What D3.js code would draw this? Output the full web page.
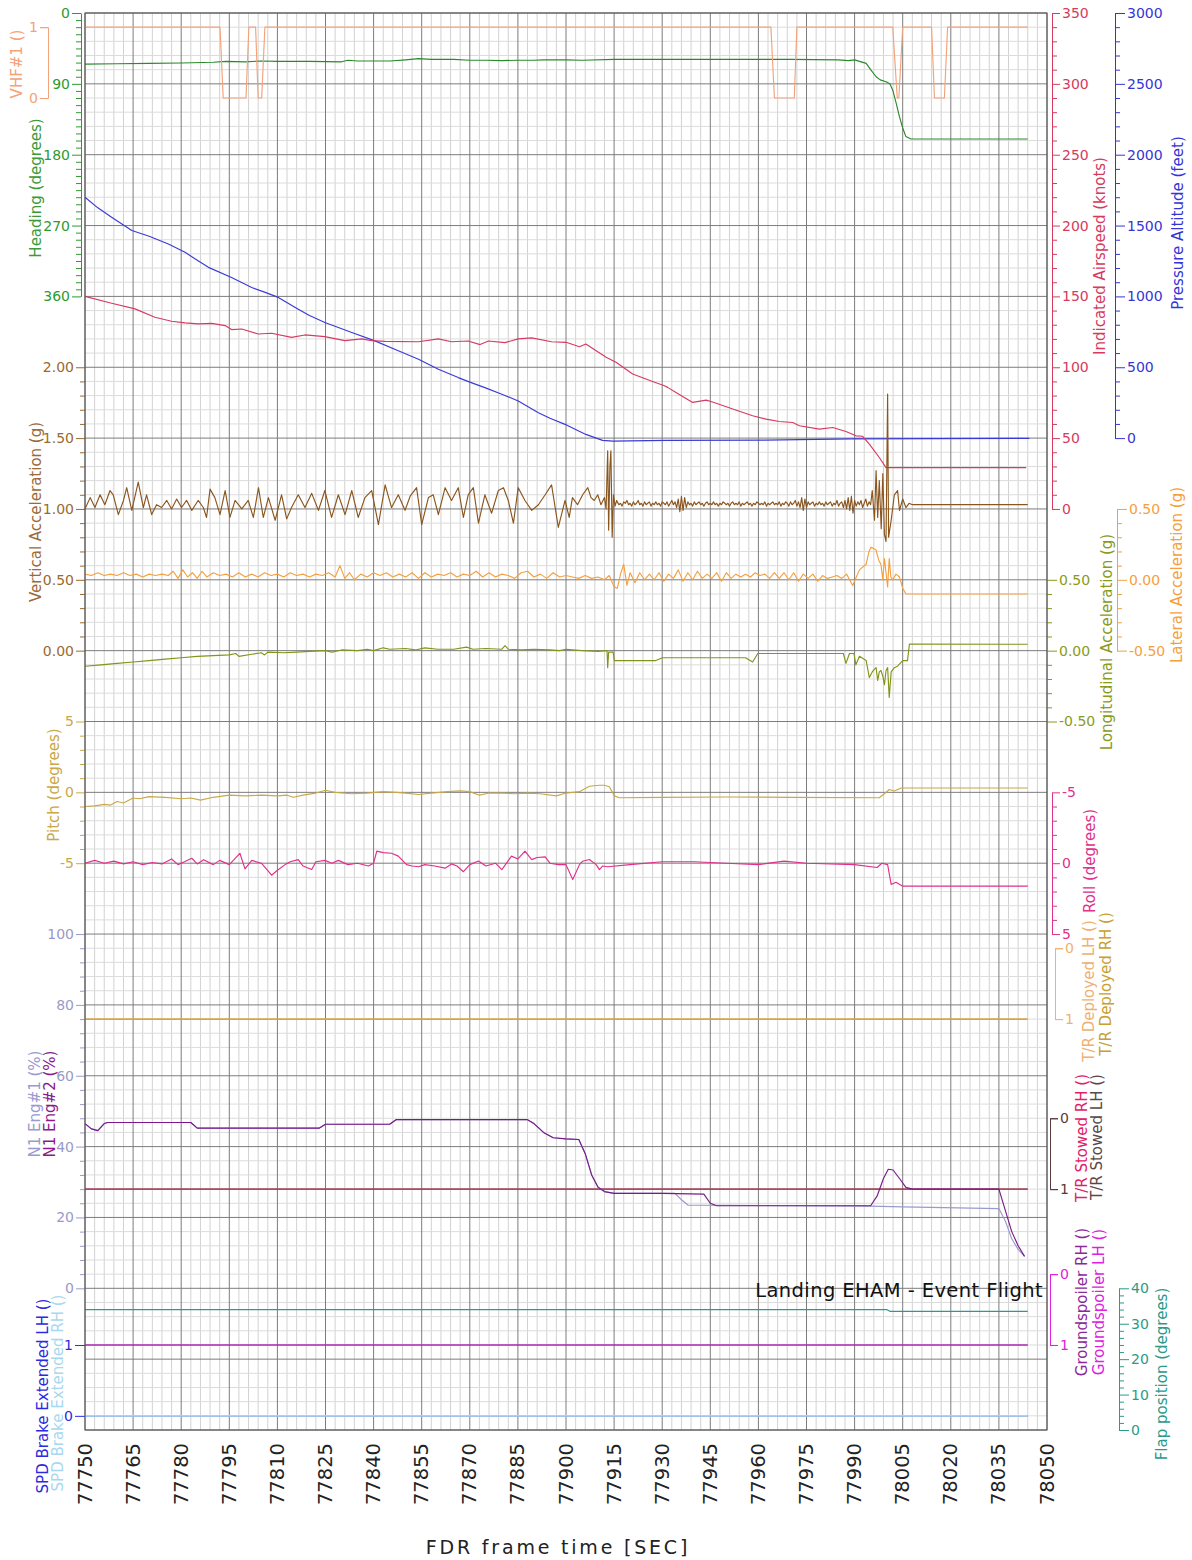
<!DOCTYPE html>
<html>
<head>
<meta charset="utf-8">
<script src="https://cdn.jsdelivr.net/npm/d3@7"></script>
<style>
  body { margin: 0; background: #fff; }
  svg text { font-family: "DejaVu Sans", Verdana, sans-serif; }
</style>
</head>
<body>
<div id="chart"></div>
<script>
// all series: [seconds after T0, value]
const T0 = 77750;
const timeTicks = d3.range(77750, 78051, 15);

const heading = [[0,65],[10,64.5],[20,64],[30,63.5],[40,62.5],[44,61.5],[50,62],[55,61],[60,61.5],[70,61.5],[80,62],[81,61],[82,60],[85,61],[95,61],[100,59.5],[104,58],[108,59],[115,59],[120,60],[125,60],[130,60.5],[135,60],[140,60],[143,59.5],[150,59.5],[155,60],[165,59],[180,59],[200,59],[220,59],[235,59.5],[238,60.5],[240,59.5],[243.6,64],[245,72],[246.7,81],[248,85],[249.8,87.4],[251,90],[251.9,98],[253,115],[254,132],[255,146],[256,157],[257.6,160],[294,160]];

const vhf1 = [[0,1],[42.1,1],[43.1,0],[50.2,0],[51.1,1],[53.2,1],[54,0],[55.1,0],[56.1,1],[213.9,1],[215,0],[221.2,0],[222,1],[251.9,1],[253.3,0],[253.8,0],[255,1],[264,1],[264.9,0],[268,0],[269,1],[294,1]];

const airspeed = [[0,150],[8.3,145.2],[15.6,141.2],[21.8,135.3],[27,132.5],[31.2,131.3],[35.3,130.6],[39.5,131],[43.7,129.4],[45.7,126.6],[48.9,127],[54,123.5],[58.2,124],[64.4,121.1],[68.6,122.8],[74.8,121.6],[81,118.8],[86.3,120],[89.4,118.8],[93.6,118.3],[104,118],[110.2,120],[114.3,118],[119.5,118.5],[123.2,116],[125.8,118.5],[131,117.4],[135.1,120],[139.3,120.7],[145.5,118],[150,117.6],[154.2,114.5],[156.2,116.4],[162.5,107],[165.6,103.5],[170.8,95.2],[177,90],[180.7,87],[181.7,85.8],[184.3,82.2],[189.5,75.2],[193.7,76.8],[195.7,75.5],[202,70.5],[208.2,65.8],[212.4,63.4],[216.5,61.7],[220.7,61],[222.8,58.7],[229,56.3],[233.2,57.5],[237.3,54.7],[240.4,51.6],[242.5,51.3],[244.6,45.7],[247.7,36.3],[249.8,29.2],[293.5,29.2]];

const altitude = [[0,1700],[4,1625],[8.3,1559],[14.6,1465],[20,1425],[26,1370],[31.2,1311],[35,1255],[38.5,1205],[45.7,1134],[52,1063],[56,1030],[60.3,993],[66.5,910],[70,865],[74.8,816],[83.2,745],[90.4,686],[97.7,616],[104,557],[110.2,486],[116.4,427],[120,395],[124.7,356],[130,310],[135.1,262],[141.4,179],[145,140],[149.7,97],[153,60],[156.2,26],[161.4,-16],[164.6,-21],[181,-16],[212,-14],[239,-5],[294.5,-2]];

// vertical acceleration, approach part
const vertAccelApproach = [[0,1.00],[1.6,1.08],[3.1,1.01],[4.7,1.10],[6.2,1.03],[7.8,1.13],[8.8,1.10],[10.4,0.96],[12,1.06],[13,1.15],[14.6,0.99],[16.6,1.19],[18.2,1.01],[19.2,1.10],[20.8,0.96],[22.3,1.03],[23.9,1.01],[25.5,1.06],[27,1.00],[28.6,1.07],[30.1,1.01],[31.7,1.06],[33.3,0.99],[35.3,1.06],[36.9,1.01],[37.9,0.94],[39,1.14],[40.5,1.08],[42.1,0.96],[43.7,1.13],[45.2,0.94],[46.8,1.06],[48.9,1.00],[50.9,1.06],[52.5,0.94],[54.1,1.15],[55.6,0.94],[57.2,1.08],[59.3,0.92],[61.3,1.10],[62.9,0.93],[64.4,1.01],[66.5,1.10],[68.6,1.01],[70.7,1.11],[72.8,0.99],[74.8,1.13],[76.9,0.94],[79,1.10],[81.1,0.96],[83.2,1.13],[85.2,0.94],[87.3,1.08],[89.4,1.13],[91.5,0.89],[93.6,1.17],[95.6,1.01],[97.7,1.10],[99.8,0.99],[101.4,1.09],[103.4,1.15],[105,0.89],[107.1,1.08],[108.6,1.10],[110.2,0.96],[112.3,1.15],[114.3,1.06],[116.4,1.15],[118,0.94],[119.5,1.10],[121.1,1.15],[122.7,0.90],[124.7,1.10],[126.8,0.97],[128.9,1.13],[130.5,1.15],[132,1.06],[133.6,0.90],[135.1,1.15],[137.2,1.06],[139.3,0.99],[141.4,1.03],[143.5,1.10],[145.5,1.17],[147.6,0.87],[149.7,1.06],
  [151,0.94],[152,1.08],[153.6,1.03],[155.2,1.10],[156.8,1.15],[157.8,1.08],[158.8,1.06],[159.9,1.10],[160.9,1.03],[162,1.08],[162.5,1.00],[163,1.41],[163.3,0.85],[163.7,1.30],[164,1.41],[164.4,0.80],[164.8,1.10],[165.3,1.02],[165.8,1.06]];

// vertical acceleration on the runway, sampled every 0.5 s from 166 s
const rolloutStart = 166, rolloutStep = 0.5;
const vertAccelRollout = [
  1.05,1.03,1.04,1.02,1.05,1.04,1.06,1.03,1.04,1.02,
  1.05,1.03,1.04,1.06,1.03,1.04,1.02,1.05,1.03,1.04,
  1.05,1.02,1.04,1.03,1.05,1.03,1.04,1.02,1.05,1.04,
  1.03,1.05,1.02,1.04,1.06,1.03,1.05,1.01,1.07,0.98,
  1.09,0.99,1.08,1.01,1.05,1.03,1.04,1.02,1.05,1.03,
  1.04,1.05,1.03,1.04,1.02,1.04,1.05,1.03,1.04,1.03,
  1.05,1.03,1.04,1.02,1.04,1.03,1.05,1.04,1.03,1.04,
  1.02,1.04,1.05,1.03,1.04,1.03,1.05,1.02,1.04,1.03,
  1.04,1.05,1.03,1.04,1.02,1.04,1.03,1.05,1.04,1.03,
  1.04,1.03,1.05,1.02,1.04,1.03,1.04,1.05,1.03,1.04,
  1.03,1.05,1.02,1.04,1.03,1.05,1.04,1.02,1.05,1.03,
  1.04,1.06,1.02,1.05,1.01,1.08,0.99,1.07,1.01,1.05,
  1.03,1.04,1.05,1.02,1.04,1.03,1.05,1.03,1.04,1.02,
  1.05,1.03,1.04,1.05,1.02,1.04,1.03,1.06,1.02,1.04,
  1.05,1.01,1.06,1.00,1.08,0.99,1.09,0.97,1.06,1.02,
  1.05,1.03,1.06,1.01,1.04,1.07,1.02,1.05,1.03,1.13];

const vertAccelTouchdown = [[246.2,0.92],[246.7,1.27],[247.2,0.94],[247.7,1.20],[248.3,0.86],[248.8,1.25],[249.3,0.82],[249.8,0.77],[250.3,1.81],[250.6,0.80],[251.4,0.92],[252.4,1.10],[253.4,1.13],[254,0.99],[255,1.07],[256,1.01],[257,1.04],[258,1.03],[294,1.03]];

const latAccel = [[0,0.04],[2,0.03],[4,0.05],[6,0.03],[8,0.04],[10,0.03],[12,0.05],[14,0.03],[16,0.04],[18,0.02],[20,0.04],[22,0.03],[24,0.04],[26,0.03],[27.5,0.06],[29,0.01],[30.5,0.07],[32,0.02],[33.5,0.05],[35,0.01],[36.5,0.06],[38,0.02],[40,0.05],[42,0.03],[44,0.04],[46,0.02],[48,0.05],[50,0.02],[52,0.04],[54,0.02],[56,0.05],[58,0.03],[60,0.04],[62,0.02],[64,0.05],[66,0.03],[68,0.04],[70,0.02],[72,0.04],[74,0.03],[76,0.05],[78,0.02],[79.5,0.10],[81,0.01],[82.5,0.05],[84,0.0],[86,0.04],[88,0.02],[90,0.05],[92,0.03],[94,0.05],[96,0.02],[98,0.04],[100,0.02],[102,0.05],[104,0.01],[106,0.05],[108,0.02],[110,0.04],[112,0.03],[114,0.05],[116,0.02],[118,0.04],[120,0.03],[122,0.06],[124,0.02],[126,0.05],[128,0.02],[130,0.04],[132,0.03],[134,0.01],[136,0.05],[138,0.06],[140,0.02],[142,0.04],[144,0.01],[146,0.05],[148,0.02],[150,0.03],
  [152,0.02],[154,0.01],[156,0.03],[158,0.01],[160,0.02],[162,0.0],[163.5,0.03],[165,-0.05],[166,-0.06],[167,0.04],[168,0.11],[169,-0.04],[170,0.05],[171.5,-0.02],[173,0.05],[174.5,0.0],[176,0.04],[177.5,0.0],[179,0.05],[180.5,-0.01],[182,0.04],[183.5,0.01],[185,0.07],[186.5,-0.01],[188,0.05],[189.5,0.0],[191,0.06],[192.5,0.01],[194,0.04],[195.5,0.01],[197,0.05],[198.5,-0.01],[200,0.05],[201.5,0.01],[203,0.04],[204.5,0.02],[206,0.04],[207.5,0.02],[209,0.05],[210.5,0.03],[212,0.04],[213.5,0.01],[215,0.05],[216.5,0.01],[218,0.05],[219.5,0.0],[221,0.05],[222.5,-0.01],[224,0.04],[225.5,0.01],[227,0.04],[228.5,-0.01],[230,0.03],[231.5,0.01],[233,0.02],[234.5,0.03],[236,0.01],[237.5,0.04],[239.4,-0.04],[241.5,0.07],[243.6,0.11],[244.5,0.20],[245.1,0.23],[246,0.22],[246.7,0.21],[247.5,0.14],[248.2,0.11],[248.8,0.0],[249.3,0.15],[249.8,0.05],[250.3,-0.05],[250.8,0.15],[251.3,0.02],[251.9,0.0],[252.9,0.04],[254,0.02],[255,-0.06],[256,-0.10],[294,-0.10]];

const lonAccel = [[0,-0.11],[5,-0.10],[10,-0.09],[15,-0.08],[20,-0.07],[25,-0.06],[30,-0.05],[35,-0.04],[40,-0.035],[45,-0.03],[47,-0.02],[48,-0.04],[52,-0.025],[55,-0.015],[56,-0.03],[57,-0.01],[62,-0.015],[66,-0.01],[70,-0.005],[75,0.0],[77,-0.01],[80,0.005],[85,0.0],[88,0.01],[90,0.0],[93,0.02],[95,0.01],[100,0.015],[103,0.005],[106,0.02],[110,0.01],[115,0.01],[119,0.025],[121,0.01],[125,0.015],[130,0.01],[131,0.035],[132,0.01],[136,0.005],[140,0.01],[145,0.005],[148,0.0],[150,0.01],
  [155,0.0],[160,-0.005],[162.8,0.0],[163,-0.12],[163.3,-0.01],[164.7,-0.01],[165.1,-0.07],[178,-0.07],[180.1,-0.05],[195,-0.05],[206,-0.05],[208.2,-0.08],[209.8,-0.02],[220,-0.02],[236.5,-0.02],[237.3,-0.09],[238.4,-0.02],[239.8,-0.02],[240.4,-0.10],[241.5,-0.04],[243.6,-0.07],[244.6,-0.19],[245.5,-0.15],[246.2,-0.13],[246.7,-0.12],[247.2,-0.21],[247.7,-0.15],[248.2,-0.14],[248.8,-0.18],[249.3,-0.24],[249.8,-0.14],[250.3,-0.12],[250.8,-0.33],[251.4,-0.15],[252.4,-0.12],[253.4,-0.11],[255,-0.07],[256.5,-0.07],[257.1,0.047],[294,0.045]];

const pitch = [[0,-1.0],[3,-0.95],[6,-0.85],[8,-0.9],[10,-0.65],[12,-0.75],[15,-0.4],[17,-0.45],[20,-0.3],[25,-0.35],[30,-0.45],[33,-0.4],[36,-0.55],[40,-0.35],[45,-0.2],[50,-0.25],[55,-0.2],[60,-0.25],[63,-0.2],[65,-0.35],[68,-0.2],[72,-0.05],[75,0.15],[78,0.0],[83,-0.1],[88,-0.05],[93,0.05],[97,0.0],[100,-0.05],[104,-0.15],[108,-0.05],[113,0.05],[117,0.1],[120,0.05],[123,-0.2],[126,-0.05],[130,-0.05],[134,-0.1],[138,-0.05],[142,-0.1],[147,-0.25],[150,-0.05],
  [154.2,0.05],[157.3,0.43],[160.4,0.5],[162,0.5],[163.5,0.4],[165.1,-0.25],[166.6,-0.38],[180,-0.35],[200,-0.33],[220,-0.35],[247.7,-0.38],[249.3,-0.1],[250.8,0.2],[252.4,0.1],[254.5,0.31],[294,0.31]];

const roll = [[0,0.0],[3,-0.2],[6,0.0],[9,-0.15],[12,0.05],[15,-0.1],[18,0.1],[21,-0.05],[24,0.05],[27,-0.3],[29,0.1],[31,-0.1],[33.3,-0.35],[35,0.05],[37,-0.25],[40,0.1],[42,-0.2],[45,0.1],[48.3,-0.7],[49.9,0.4],[52,-0.2],[55,0.0],[58.2,0.85],[60,0.5],[62.4,0.1],[64,-0.1],[66.5,-0.25],[68,0.2],[70.7,0.45],[72,-0.1],[74.8,-0.2],[77,0.0],[79,-0.2],[82,0.1],[85,0.0],[88.4,0.2],[90,0.0],[91,-0.85],[93,-0.75],[95.6,-0.7],[97.7,-0.5],[100.3,0.1],[102,0.2],[104,0.25],[106,0.1],[109.1,0.2],[112.3,0.35],[114.3,0.05],[116,0.2],[118,0.6],[120,0.1],[122.7,-0.15],[125,0.2],[128,0.0],[130,0.45],[133,-0.5],[135,-0.3],[137.2,-0.85],[139.3,-0.25],[141,-0.4],[143.5,-0.45],[145,0.0],[147.6,0.1],[150,0.1],
  [152.1,1.15],[154.2,0.1],[155.2,-0.14],[157.3,-0.26],[159.4,0.1],[160.4,0.45],[161.4,0.2],[163,0.25],[170,0.1],[180,-0.1],[190,-0.1],[200,0.0],[210,0.1],[218,-0.15],[225,0.0],[240,0.1],[247,0.3],[248.5,0.0],[250.3,0.1],[251.4,1.5],[252.9,1.35],[255,1.62],[294,1.62]];

const n1Eng1 = [[0,46.5],[2,45],[4,44.5],[6,46.5],[7,46.8],[33,46.8],[35,45.2],[73,45.2],[75,46.3],[95,46.3],[97,47.6],[138,47.6],[140,46.5],[143,44],[146,42.5],[150,42.2],[154,42],[156,38],[158,32],[160,28.5],[162,27.3],[165,26.8],[184,26.8],[186,25],[188,23.5],[245,23.2],[255,23],[285,22.5],[287,19],[289,14],[291,11],[293,9]];
const n1Eng2 = [[0,46.5],[2,45],[4,44.5],[6,46.5],[7,46.8],[33,46.8],[35,45.2],[73,45.2],[75,46.3],[95,46.3],[97,47.6],[138,47.6],[140,46.5],[143,44],[146,42.5],[150,42.2],[154,42],[156,38],[158,32],[160,28.5],[162,27.3],[165,26.8],[180,26.8],[193,26.6],[195,24],[197,23.3],[245,23.3],[247,26],[249,31],[250.5,33.6],[252,33.4],[254,31],[256,28.5],[258,28],[285,28],[287,22],[289,16],[291,12],[293,9]];

const trDeployedLH = [[0,1],[294,1]];
const trDeployedRH = [[0,1],[294,1]];
const trStowedLH = [[0,1],[294,1]];
const trStowedRH = [[0,1],[294,1]];
const gspoilerRH = [[0,1],[294,1]];
const gspoilerLH = [[0,1],[294,1]];
const spdBrakeLH = [[0,0],[294,0]];
const spdBrakeRH = [[0,0],[294,0]];
const flap = [[0,34],[250,34],[251,33.5],[294,33.5]];

const vertAccel = vertAccelApproach
    .concat(vertAccelRollout.map((v, i) => [rolloutStart + i * rolloutStep, v]))
    .concat(vertAccelTouchdown);

// ---- layout
const W = 1192, H = 1560;
const plot = { left: 85, right: 1047, top: 13, bottom: 1430 };
const rowH = (plot.bottom - plot.top) / 20;
const row = r => plot.top + r * rowH;

const svg = d3.select("#chart").append("svg")
    .attr("width", W)
    .attr("height", H);

const x = d3.scaleLinear().domain([77750, 78050]).range([plot.left, plot.right]);

// grid
const grid = svg.append("g");
grid.selectAll("line.vmin")
    .data(d3.range(77750, 78051, 3).filter(t => (t - 77750) % 15 !== 0))
    .enter().append("line")
    .attr("x1", d => x(d)).attr("x2", d => x(d))
    .attr("y1", plot.top).attr("y2", plot.bottom)
    .attr("stroke", "#d2d2d2");
grid.selectAll("line.hmin")
    .data(d3.range(0, 100).filter(i => i % 5 !== 0).map(i => i / 5))
    .enter().append("line")
    .attr("x1", plot.left).attr("x2", plot.right)
    .attr("y1", d => row(d)).attr("y2", d => row(d))
    .attr("stroke", "#dcdcdc");
grid.selectAll("line.vmaj")
    .data(timeTicks)
    .enter().append("line")
    .attr("x1", d => x(d)).attr("x2", d => x(d))
    .attr("y1", plot.top).attr("y2", plot.bottom)
    .attr("stroke", "#7c7c7c");
grid.selectAll("line.hmaj")
    .data(d3.range(0, 21))
    .enter().append("line")
    .attr("x1", plot.left).attr("x2", plot.right)
    .attr("y1", d => row(d)).attr("y2", d => row(d))
    .attr("stroke", "#7c7c7c");

const fmt2 = d => d.toFixed(2);
const fmtInt = d => String(d);

const axes = {
    heading:  { side: "left",  x: 81,   domain: [0, 360],   range: [row(0), row(4)],      major: [0, 90, 180, 270, 360], minor: 9,   color: "#2e9a2e", fmt: fmtInt },
    vhf:      { side: "left",  x: 48,   domain: [0, 1],     range: [row(1.2), row(0.2)],  major: [0, 1], color: "#f4a27a", fmt: fmtInt, outer: 8, tick: 8 },
    vert:     { side: "left",  x: 85,   domain: [0, 2],     range: [row(9), row(5)],      major: [0, 0.5, 1, 1.5, 2], minor: 0.1, color: "#9a6a30", fmt: fmt2, noDomain: true },
    pitch:    { side: "left",  x: 85,   domain: [-5, 5],    range: [row(12), row(10)],    major: [-5, 0, 5], minor: 1, color: "#c8a848", fmt: fmtInt, noDomain: true },
    n1:       { side: "left",  x: 85,   domain: [0, 100],   range: [row(18), row(13)],    major: [0, 20, 40, 60, 80, 100], minor: 4, color: "#9a9ac8", fmt: fmtInt, noDomain: true },
    spd:      { side: "left",  x: 85,   domain: [0, 1],     range: [row(19.8), row(18.8)], major: [0, 1], color: "#2a2ae0", fmt: fmtInt, noDomain: true, tick: 10 },
    airspeed: { side: "right", x: 1052, domain: [0, 350],   range: [row(7), row(0)],      major: d3.range(0, 351, 50), minor: 10, color: "#d63a5e", fmt: fmtInt, tick: 8 },
    altitude: { side: "right", x: 1115, domain: [0, 3000],  range: [row(6), row(0)],      major: d3.range(0, 3001, 500), minor: 100, color: "#3535d5", fmt: fmtInt, tick: 10 },
    lateral:  { side: "right", x: 1117, domain: [-0.5, 0.5], range: [row(9), row(7)],     major: [-0.5, 0, 0.5], minor: 0.1, color: "#f5a040", fmt: fmt2, tick: 10 },
    longit:   { side: "right", x: 1047, domain: [-0.5, 0.5], range: [row(10), row(8)],    major: [-0.5, 0, 0.5], minor: 0.1, color: "#8a9a1a", fmt: fmt2, tick: 10, noDomain: true },
    roll:     { side: "right", x: 1052, domain: [-5, 5],    range: [row(11), row(13)],    major: [-5, 0, 5], minor: 1, color: "#e0308c", fmt: fmtInt, tick: 8 },
    trDep:    { side: "right", x: 1055, domain: [0, 1],     range: [row(13.2), row(14.2)], major: [0, 1], color: "#f0b070", fmt: fmtInt, outer: 8, tick: 8 },
    trStow:   { side: "right", x: 1050, domain: [0, 1],     range: [row(15.6), row(16.6)], major: [0, 1], color: "#5a3a3a", fmt: fmtInt, outer: 8, tick: 8 },
    gspoiler: { side: "right", x: 1050, domain: [0, 1],     range: [row(17.8), row(18.8)], major: [0, 1], color: "#e020e0", fmt: fmtInt, outer: 8, tick: 8 },
    flap:     { side: "right", x: 1119, domain: [0, 40],    range: [row(20), row(18)],    major: [0, 10, 20, 30, 40], minor: 2, color: "#2a9a8a", fmt: fmtInt, tick: 10 }
};

Object.values(axes).forEach(a => {
    a.scale = d3.scaleLinear().domain(a.domain).range(a.range);
});

// lines
const series = [
    { data: heading, axis: "heading", color: "#2a8a2a" },
    { data: altitude, axis: "altitude", color: "#3a3ad8" },
    { data: airspeed, axis: "airspeed", color: "#d63a62" },
    { data: vhf1, axis: "vhf", color: "#f4a27a" },
    { data: vertAccel, axis: "vert", color: "#8b561e" },
    { data: latAccel, axis: "lateral", color: "#f5a040" },
    { data: lonAccel, axis: "longit", color: "#849418" },
    { data: pitch, axis: "pitch", color: "#c8a848" },
    { data: roll, axis: "roll", color: "#e0308c" },
    { data: trDeployedLH, axis: "trDep", color: "#f0b070" },
    { data: trDeployedRH, axis: "trDep", color: "#c8a030" },
    { data: trStowedLH, axis: "trStow", color: "#6a4848" },
    { data: trStowedRH, axis: "trStow", color: "#c23a5c" },
    { data: spdBrakeLH, axis: "spd", color: "#2a2ae0" },
    { data: spdBrakeRH, axis: "spd", color: "#a8d4f0", width: 1.8 },
    { data: flap, axis: "flap", color: "#2a9a8a" },
    { data: gspoilerLH, axis: "gspoiler", color: "#e020e0" },
    { data: gspoilerRH, axis: "gspoiler", color: "#962a9a" },
    { data: n1Eng1, axis: "n1", color: "#9a9ad0" },
    { data: n1Eng2, axis: "n1", color: "#7a1a8a" }
];

const lines = svg.append("g").attr("fill", "none").attr("stroke-linejoin", "round");
series.forEach(s => {
    const y = axes[s.axis].scale;
    lines.append("path")
        .datum(s.data)
        .attr("stroke", s.color)
        .attr("stroke-width", s.width || 1.15)
        .attr("d", d3.line().x(d => x(T0 + d[0])).y(d => y(d[1])));
});

// axes
Object.values(axes).forEach(a => {
    const make = a.side === "left" ? d3.axisLeft : d3.axisRight;
    const g = svg.append("g")
        .attr("transform", `translate(${a.x},0)`)
        .attr("color", a.color);
    if (a.minor) {
        const lo = Math.min(...a.domain), hi = Math.max(...a.domain);
        const minorVals = d3.range(lo, hi + a.minor / 2, a.minor)
            .filter(v => !a.major.some(m => Math.abs(m - v) < a.minor / 10));
        g.append("g")
            .call(make(a.scale).tickValues(minorVals).tickSize(5).tickSizeOuter(0).tickFormat(""))
            .call(s => s.select(".domain").remove());
    }
    g.append("g")
        .call(make(a.scale)
            .tickValues(a.major)
            .tickSize(a.tick || 9)
            .tickSizeOuter(a.outer || 0)
            .tickPadding(2)
            .tickFormat(a.fmt))
        .call(s => {
            s.attr("font-family", null).attr("font-size", null);
            s.selectAll("text").attr("font-size", 14);
            if (a.noDomain) s.select(".domain").remove();
        });
});

// plot border
svg.append("rect")
    .attr("x", plot.left).attr("y", plot.top)
    .attr("width", plot.right - plot.left).attr("height", plot.bottom - plot.top)
    .attr("fill", "none").attr("stroke", "#505050");

// axis titles
const titles = [
    ["VHF#1 ()", 17, 64, "#f4a27a"],
    ["Heading (degrees)", 36, 188, "#3a9a3a"],
    ["Vertical Acceleration (g)", 36, 512, "#9a6a3a"],
    ["Pitch (degrees)", 54, 785, "#c8a848"],
    ["N1 Eng#1 (%)", 35, 1104, "#9a9ad0"],
    ["N1 Eng#2 (%)", 50, 1104, "#8a1a8a"],
    ["SPD Brake Extended LH ()", 43, 1396, "#2a2ae0"],
    ["SPD Brake Extended RH ()", 58, 1393, "#a8d8f0"],
    ["Indicated Airspeed (knots)", 1100, 256, "#d63a5e"],
    ["Pressure Altitude (feet)", 1178, 223, "#3535d5"],
    ["Longitudinal Acceleration (g)", 1107, 642, "#8a9a1a"],
    ["Lateral Acceleration (g)", 1177, 575, "#f5a040"],
    ["Roll (degrees)", 1090, 861, "#e0308c"],
    ["T/R Deployed LH ()", 1089, 991, "#f0b070"],
    ["T/R Deployed RH ()", 1106, 984, "#c8a030"],
    ["T/R Stowed RH ()", 1082, 1138, "#e0206a"],
    ["T/R Stowed LH ()", 1097, 1137, "#5a4848"],
    ["Groundspoiler RH ()", 1082, 1302, "#8a2a9a"],
    ["Groundspoiler LH ()", 1099, 1302, "#e020e0"],
    ["Flap position (degrees)", 1162, 1374, "#2a9a8a"]
];
svg.append("g").selectAll("text")
    .data(titles)
    .enter().append("text")
    .attr("transform", d => `translate(${d[1]},${d[2]}) rotate(-90)`)
    .attr("text-anchor", "middle")
    .attr("dominant-baseline", "central")
    .attr("font-size", 15)
    .attr("fill", d => d[3])
    .text(d => d[0]);

// x axis labels
svg.append("g").selectAll("text")
    .data(timeTicks)
    .enter().append("text")
    .attr("transform", d => `translate(${x(d)},1443) rotate(-90)`)
    .attr("text-anchor", "end")
    .attr("dominant-baseline", "central")
    .attr("font-size", 19.5)
    .attr("fill", "#222")
    .text(d => d);

svg.append("text")
    .attr("x", 558).attr("y", 1554)
    .attr("text-anchor", "middle")
    .attr("font-size", 19)
    .attr("letter-spacing", 2.8)
    .attr("fill", "#222")
    .text("FDR frame time [SEC]");

svg.append("text")
    .attr("x", 1043).attr("y", 1297)
    .attr("text-anchor", "end")
    .attr("font-size", 19.5)
    .attr("letter-spacing", 0.4)
    .attr("fill", "#111")
    .text("Landing EHAM - Event Flight");
</script>
</body>
</html>
